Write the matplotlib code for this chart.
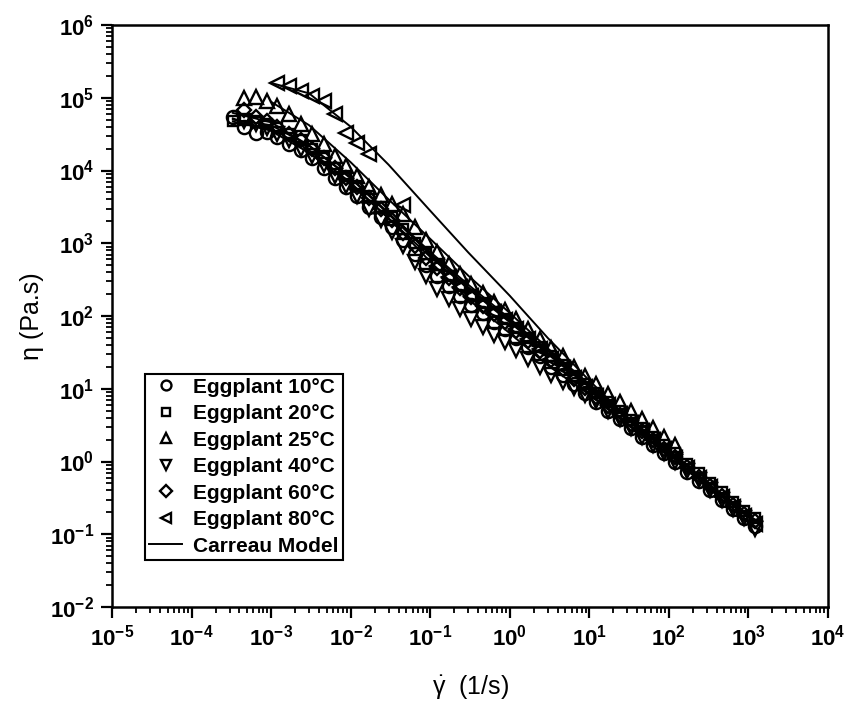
import numpy as np
import matplotlib
matplotlib.use("Agg")
import matplotlib.pyplot as plt
from matplotlib.ticker import LogLocator, NullFormatter

plt.rcParams['font.family'] = ['Liberation Sans', 'DejaVu Sans']
plt.rcParams['mathtext.fontset'] = 'custom'
plt.rcParams['mathtext.rm'] = 'Liberation Sans'
plt.rcParams['mathtext.it'] = 'Liberation Sans:italic'
plt.rcParams['mathtext.bf'] = 'Liberation Sans:bold'

nan = np.nan

# shear rate grid (1/s) shared by the measured series
shear = [3.3e-4, 4.6e-4, 6.4e-4, 8.8e-4,
         1.2e-3, 1.7e-3, 2.4e-3, 3.3e-3, 4.6e-3, 6.4e-3, 8.8e-3,
         1.2e-2, 1.7e-2, 2.4e-2, 3.3e-2, 4.6e-2, 6.4e-2, 8.8e-2,
         0.12, 0.17, 0.24, 0.33, 0.46, 0.64, 0.88,
         1.2, 1.7, 2.4, 3.3, 4.6, 6.4, 8.8,
         12, 17, 24, 33, 46, 64, 88,
         120, 170, 240, 330, 460, 640, 880, 1200]

# viscosity (Pa.s)
eta_10 = [55000, 40000, 33000, 34000, 29000, 23000, 19000, 15000, 11000, 7900, 6000,
          4400, 3200, 2300, 1700, 1100, 720, 500, 350, 260, 190, 140, 110, 83, 66,
          50, 37, 28, 20, 15.5, 11.5, 8.7, 6.6, 5.0, 3.8, 2.9, 2.2, 1.7, 1.32,
          1.0, 0.72, 0.54, 0.40, 0.30, 0.22, 0.166, 0.13]
eta_20 = [48000, 50000, 48000, 44000, 39000, 32000, 26000, 20000, 15000, 11000, 8300,
          6200, 4500, 3200, 2300, 1550, 1020, 710, 500, 360, 260, 195, 150, 115, 91,
          69, 50, 37, 28, 21, 15, 11.5, 8.7, 6.5, 4.9, 3.7, 2.9, 2.2, 1.7,
          1.29, 0.93, 0.69, 0.51, 0.38, 0.28, 0.21, 0.166]
eta_25 = [nan, 100000, 102000, 91000, 76000, 59000, 44000, 32000, 23000, 16000, 11500,
          8300, 6000, 4600, 3500, 2500, 1650, 1100, 760, 520, 380, 275, 205, 155, 120,
          91, 66, 49, 36, 28, 20, 15, 11.5, 8.5, 6.5, 4.9, 3.8, 2.9, 2.2,
          1.7, nan, nan, nan, nan, nan, nan, nan]
eta_40 = [nan, 48000, 44000, 38000, 32000, 26000, 20000, 16000, 12000, 8300, 6200,
          4400, 3000, 2100, 1450, 910, 560, 350, 235, 170, 125, 92, 71, 55, 44,
          34, 26, 20, 15.5, 12.5, 10.2, 8.3, 6.7, 5.0, 3.8, 2.9, 2.2, 1.7, 1.32,
          1.0, 0.74, 0.55, 0.41, 0.30, 0.22, 0.17, 0.12]
eta_60 = [nan, 68000, 55000, 48000, 40000, 32000, 26000, 20000, 15000, 10700, 7900,
          5900, 4200, 3000, 2100, 1400, 930, 630, 460, 330, 240, 180, 138, 105, 83,
          62, 45, 33, 25, 18.6, 13.5, 10.2, 7.8, 5.8, 4.4, 3.3, 2.6, 1.95, 1.51,
          1.15, 0.83, 0.62, 0.46, 0.34, 0.25, 0.19, 0.15]
eta_80 = [nan, nan, nan, nan, 160000, 145000, 123000, 107000, 89000, 60000, 33000,
          24000, 17000, nan, nan, 3400, nan, nan, 480, 340, 250, 190, 145, 112, 88,
          66, 48, 35, 26, 19.5, 14, 10.6, 8.0, 6.0, 4.5, 3.4, 2.6, 1.95, 1.5,
          1.12, 0.82, 0.6, 0.45, 0.33, 0.24, 0.18, 0.14]

# Carreau model curves
model_rate = [3.3e-4, 1e-3, 3e-3, 1e-2, 3e-2, 0.1, 0.3, 1, 3, 10, 30, 100, 300, 1000, 1200]
fit_10 = [52000, 35000, 17500, 6400, 2200, 650, 240, 82, 30, 10.5, 3.9, 1.35, 0.5, 0.18, 0.155]
fit_20 = [50000, 42000, 22000, 8000, 2600, 760, 270, 92, 33, 11.5, 4.1, 1.45, 0.52, 0.185, 0.16]
fit_25 = [nan, 88000, 42000, 13000, 4000, 1150, 360, 110, 36, 11.5, 3.8, 1.2, nan, nan, nan]
fit_40 = [47000, 38000, 19000, 6800, 2200, 560, 170, 58, 21, 8.3, 3.2, 1.25, 0.47, 0.17, 0.15]
fit_60 = [62000, 46000, 22000, 7800, 2500, 720, 250, 86, 31, 11, 4.0, 1.4, 0.5, 0.18, 0.155]
fit_80 = [nan, 160000, 115000, 40000, 12000, 2800, 750, 190, 50, 13, 4.0, 1.3, 0.45, 0.15, 0.13]

fig = plt.figure(figsize=(8.48, 7.07), dpi=100)
ax = fig.add_axes([0.1321, 0.1414, 0.8443, 0.8232])

series = [(eta_10, 'o', 'Eggplant 10°C'),
          (eta_20, 's', 'Eggplant 20°C'),
          (eta_25, '^', 'Eggplant 25°C'),
          (eta_40, 'v', 'Eggplant 40°C'),
          (eta_60, 'D', 'Eggplant 60°C'),
          (eta_80, '<', 'Eggplant 80°C')]
for eta, mk, lab in series:
    ms = 7.5 if mk in ('s', 'D') else 9.5
    ax.plot(shear, eta, ls='none', marker=mk, ms=ms, mfc='none', mec='black',
            mew=1.7, label=lab)

fits = [fit_10, fit_20, fit_25, fit_40, fit_60, fit_80]
for i, f in enumerate(fits):
    ax.plot(model_rate, f, color='black', lw=1.4,
            label='Carreau Model' if i == 0 else None)

ax.set_xscale('log')
ax.set_yscale('log')
ax.set_xlim(1e-5, 1e4)
ax.set_ylim(1e-2, 1e6)

xexp = list(range(-5, 5))
yexp = list(range(-2, 7))
ax.xaxis.set_minor_locator(LogLocator(base=10, subs=np.arange(2, 10), numticks=20))
ax.yaxis.set_minor_locator(LogLocator(base=10, subs=np.arange(2, 10), numticks=20))
ax.set_xticks([10.0 ** e for e in xexp])
ax.set_xticklabels([r'$\mathbf{10^{%d}}$' % e for e in xexp])
ax.set_yticks([10.0 ** e for e in yexp])
ax.set_yticklabels([r'$\mathbf{10^{%d}}$' % e for e in yexp])
ax.xaxis.set_minor_formatter(NullFormatter())
ax.yaxis.set_minor_formatter(NullFormatter())

ax.tick_params(which='major', direction='out', length=8, width=1.6, labelsize=16, pad=5)
ax.tick_params(which='minor', direction='out', length=4, width=1.3)
for s in ax.spines.values():
    s.set_linewidth(1.8)

ax.set_ylabel('η (Pa.s)', fontsize=18, labelpad=4)
ax.set_xlabel(r'$\mathrm{\dot{\gamma}}$  (1/s)', fontsize=18, labelpad=16)

leg = ax.legend(loc='lower left', bbox_to_anchor=(0.046, 0.081), borderaxespad=0,
                prop={'weight': 'bold', 'size': 15}, fancybox=False, framealpha=1,
                edgecolor='black', markerscale=0.75, handlelength=1.6,
                handletextpad=0.5, labelspacing=0.36, borderpad=0.2)
leg.get_frame().set_linewidth(1.5)

fig.savefig('out.png', dpi=100)
